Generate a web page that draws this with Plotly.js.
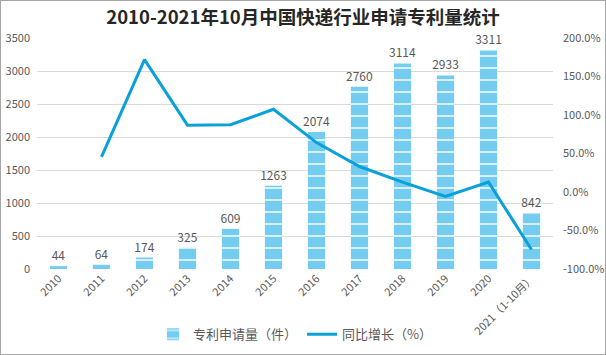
<!DOCTYPE html>
<html><head><meta charset="utf-8">
<script src="https://cdn.plot.ly/plotly-3.0.1.min.js"></script>
<style>
html,body{margin:0;padding:0;background:#fff;}
#wrap{position:relative;width:606px;height:355px;}
#chart{width:606px;height:355px;}
#frame{position:absolute;left:0;top:0;width:604px;height:353px;border:1px solid #a6a6a6;pointer-events:none;}
</style></head>
<body>
<div id="wrap"><div id="chart"></div><div id="frame"></div></div>
<script>
const years = ['2010','2011','2012','2013','2014','2015','2016','2017','2018','2019','2020','2021（1-10月）'];
const patents = [44, 64, 174, 325, 609, 1263, 2074, 2760, 3114, 2933, 3311, 842];
const growth = [null, 45.5, 171.9, 86.8, 87.4, 107.4, 64.2, 33.1, 12.8, -5.8, 12.9, -74.6];
const leftTicks = [0, 500, 1000, 1500, 2000, 2500, 3000, 3500];
const rightTicks = [-100, -50, 0, 50, 100, 150, 200];

const FONT = '"Noto Sans CJK SC", "Liberation Sans", sans-serif';
const GRAY = '#595959';

const traces = [
  {
    type: 'bar', name: '专利申请量（件）', x: years, y: patents,
    width: 0.4,
    marker: {
      color: '#74cdf1',
      line: {width: 0},
      pattern: {shape: '-', fillmode: 'replace', bgcolor: '#74cdf1', fgcolor: '#ffffff', size: 12, solidity: 0.12}
    },
    text: patents.map(String), textposition: 'outside', cliponaxis: false, constraintext: 'none',
    textfont: {color: GRAY, size: 12, family: FONT},
    hoverinfo: 'x+y'
  },
  {
    type: 'scatter', mode: 'lines', name: '同比增长（%）', x: years, y: growth,
    yaxis: 'y2', line: {color: '#0aa0d8', width: 3}, connectgaps: false
  }
];

const layout = {
  width: 606, height: 355,
  margin: {l: 37, r: 53, t: 38, b: 86},
  paper_bgcolor: '#ffffff', plot_bgcolor: '#ffffff',
  font: {family: FONT, color: GRAY, size: 11},
  title: {text: '<b>2010-2021年10月中国快递行业申请专利量统计</b>', x: 0.5, xanchor: 'center', y: 0.952, yanchor: 'middle',
          font: {family: FONT, size: 18.5, color: '#262626'}},
  showlegend: true,
  legend: {orientation: 'h', x: 0.5, xanchor: 'center', yref: 'container', y: 0.058, yanchor: 'middle',
           font: {size: 13, color: GRAY, family: FONT}, traceorder: 'normal'},
  xaxis: {type: 'category', tickangle: -45, showgrid: false, zeroline: false, showline: false,
          ticks: '', tickfont: {size: 11, color: GRAY}, fixedrange: true},
  yaxis: {range: [0, 3500], tickvals: leftTicks, ticktext: leftTicks.map(String), showgrid: true,
          gridcolor: '#d9d9d9', gridwidth: 1, zeroline: false, showline: false, ticks: '',
          ticklabelstandoff: 6, tickfont: {size: 11, color: GRAY}},
  yaxis2: {overlaying: 'y', side: 'right', range: [-100, 200], tickvals: rightTicks,
           ticktext: rightTicks.map(v => v.toFixed(1) + '%'), showgrid: false, zeroline: false,
           showline: false, ticks: '', ticklabelstandoff: 9, tickfont: {size: 11, color: GRAY}}
};

Plotly.newPlot('chart', traces, layout, {displayModeBar: false, staticPlot: true});
</script>
</body></html>
